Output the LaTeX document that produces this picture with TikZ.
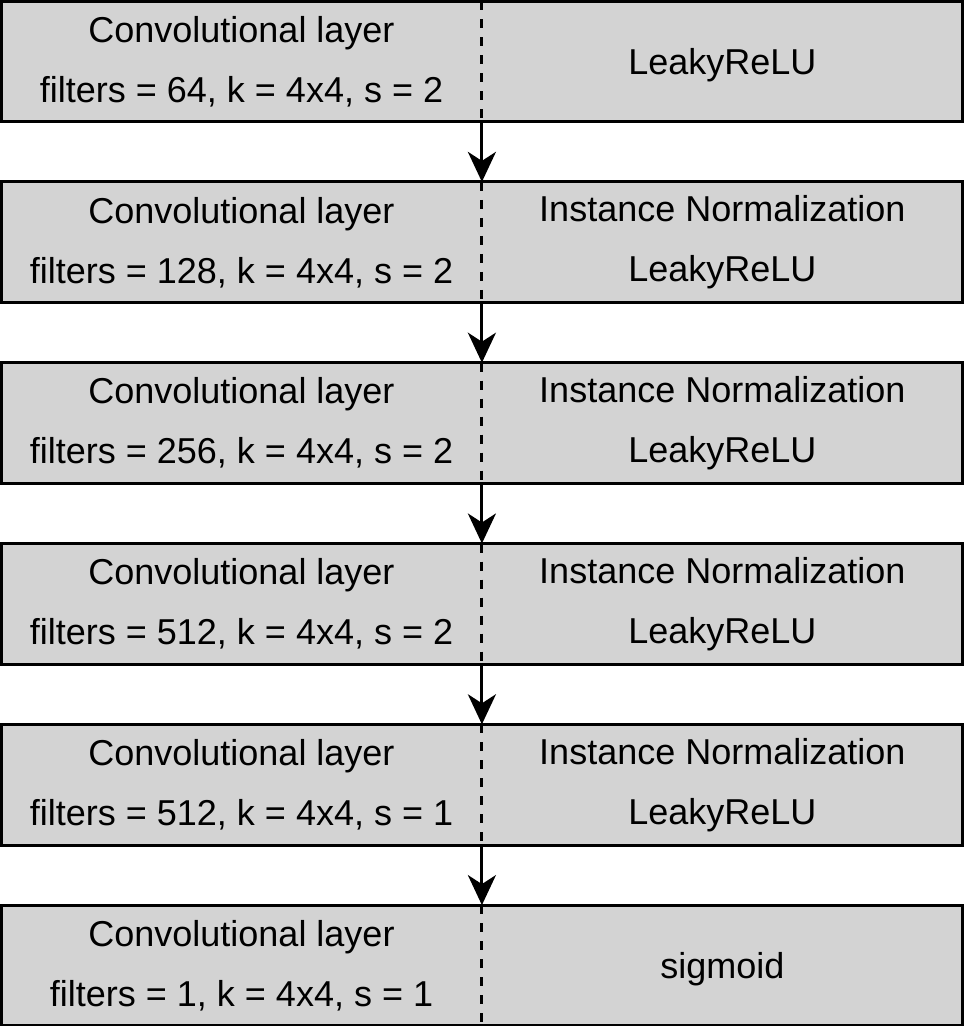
\documentclass[tikz,border=0pt]{standalone}
\usepackage{fontspec}
\setmainfont{Liberation Sans}
\usetikzlibrary{arrows.meta,positioning}
\definecolor{boxgray}{RGB}{211,211,211}

\begin{document}
\begin{tikzpicture}[x=1pt, y=1pt,
  half/.style={fill=boxgray, minimum width=240pt, minimum height=60pt, inner sep=0pt, align=center, font=\fontsize{18}{30}\selectfont, execute at begin node={\rule{0pt}{17pt}}},
  frame/.style={line width=1.5pt},
  divider/.style={line width=1.5pt, dash pattern=on 4.5pt off 4.5pt},
  flow/.style={line width=1.5pt, -{Stealth[length=15pt, width=14pt, inset=4.5pt]}}]

\useasboundingbox (0,0) rectangle (483,-513);

% layers, left half: convolution, right half: activation
\node[half] (conv1) at (120.75,-30.75) {Convolutional layer\\filters = 64, k = 4x4, s = 2};
\node[half, right=0pt of conv1] (act1) {LeakyReLU};
\node[half, below=30pt of conv1] (conv2) {Convolutional layer\\filters = 128, k = 4x4, s = 2};
\node[half, right=0pt of conv2] (act2) {Instance Normalization\\LeakyReLU};
\node[half, below=30pt of conv2] (conv3) {Convolutional layer\\filters = 256, k = 4x4, s = 2};
\node[half, right=0pt of conv3] (act3) {Instance Normalization\\LeakyReLU};
\node[half, below=30pt of conv3] (conv4) {Convolutional layer\\filters = 512, k = 4x4, s = 2};
\node[half, right=0pt of conv4] (act4) {Instance Normalization\\LeakyReLU};
\node[half, below=30pt of conv4] (conv5) {Convolutional layer\\filters = 512, k = 4x4, s = 1};
\node[half, right=0pt of conv5] (act5) {Instance Normalization\\LeakyReLU};
\node[half, below=30pt of conv5] (conv6) {Convolutional layer\\filters = 1, k = 4x4, s = 1};
\node[half, right=0pt of conv6] (act6) {sigmoid};

\foreach \i in {1,...,6}{
  \draw[frame] (conv\i.north west) rectangle (act\i.south east);
  \draw[divider] (conv\i.north east) -- (conv\i.south east);
}

\foreach \i/\j in {1/2,2/3,3/4,4/5,5/6}
  \draw[flow] (conv\i.south east) -- (conv\j.north east);

\end{tikzpicture}
\end{document}
